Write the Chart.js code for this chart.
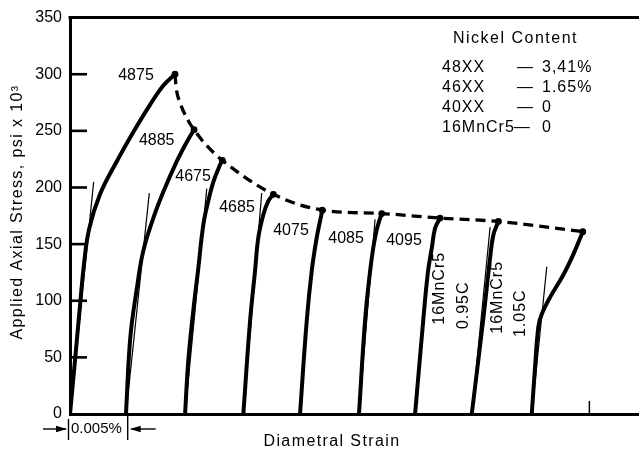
<!DOCTYPE html>
<html>
<head>
<meta charset="utf-8">
<script src="https://cdn.jsdelivr.net/npm/chart.js@4.4.1/dist/chart.umd.min.js"></script>
<style>
  html, body { margin: 0; padding: 0; background: #fff; }
  #wrap { width: 639px; height: 449px; position: relative; }
</style>
</head>
<body>
<div id="wrap"><canvas id="grafico"></canvas></div>
<script>
// Datos: deformacion diametral en unidades de 0.001 %, esfuerzo en psi x 10^3
const aceros = ["4875", "4885", "4675", "4685", "4075", "4085", "4095", "16MnCr5 0.95C", "16MnCr5 1.05C"];

const def4875 = [0, 0.43, 0.87, 1.21, 1.65, 2.60, 4.05, 5.49, 6.93, 8.09, 9.10];
const esf4875 = [0, 47, 96, 132, 163, 194, 223, 249, 273, 290, 300];

const def4885 = [4.85, 5.23, 5.81, 6.35, 7.22, 8.08, 9.25, 10.11, 10.75];
const esf4885 = [0, 68, 112, 144, 173, 196, 223, 240, 251];

const def4675 = [9.97, 10.25, 10.68, 11.12, 11.55, 11.98, 12.42, 13.00, 13.20];
const esf4675 = [0, 47, 91, 129, 167, 188, 205, 220, 224];

const def4685 = [15.02, 15.60, 16.03, 16.32, 16.75, 17.18, 17.62];
const esf4685 = [0, 82, 126, 156, 176, 188, 194];

const def4075 = [19.93, 20.51, 20.94, 21.38, 21.66, 21.86];
const esf4075 = [0, 82, 126, 156, 170, 180];

const def4085 = [25.04, 25.56, 26.00, 26.28, 26.58, 26.78, 27.01];
const esf4085 = [0, 82, 126, 147, 163, 170, 177];

const def4095 = [29.90, 30.60, 31.02, 31.37, 31.63, 32.06];
const esf4095 = [0, 82, 126, 148, 164, 173];

const defMn095 = [34.81, 35.82, 36.40, 36.68, 37.11];
const esfMn095 = [0, 85, 138, 158, 170];

const defMn105 = [40.01, 40.29, 40.58, 40.87, 41.59, 42.75, 43.61, 44.43];
const esfMn105 = [0, 41, 77, 88, 103, 123, 141, 161];

// Rectas elasticas (lineas finas)
const defRectas = [[0, 2.05], [4.85, 6.87], [9.97, 11.85], [15.02, 16.61], [25.04, 26.43], [34.81, 36.40], [40.01, 41.31]];
const esfRectas = [[0, 205], [0, 195], [0, 199], [0, 195], [0, 172], [0, 165], [0, 130]];

// Envolvente de maximos (linea discontinua)
const defEnvolvente = [9.10, 9.20, 9.53, 10.25, 10.75, 11.75, 13.20, 17.62, 21.86, 27.01, 32.06, 37.11, 44.43];
const esfEnvolvente = [300, 288, 275, 259, 251, 238, 224, 194, 180, 177, 173, 170, 161];
const picos = [0, 4, 6, 7, 8, 9, 10, 11, 12]; // indices de los maximos marcados

const ticksEsfuerzo = [0, 50, 100, 150, 200, 250, 300, 350];
const escalaDef = 5; // 0.005 %

const niquelNombres = ["48XX", "46XX", "40XX", "16MnCr5"];
const niquelValores = ["3,41%", "1.65%", "0", "0"];

const FUENTE = "'Liberation Sans', Arial, sans-serif";
const puntos = (xs, ys) => xs.map((x, i) => ({ x: x, y: ys[i] }));

const curvas = [
  [def4875, esf4875], [def4885, esf4885], [def4675, esf4675], [def4685, esf4685],
  [def4075, esf4075], [def4085, esf4085], [def4095, esf4095], [defMn095, esfMn095], [defMn105, esfMn105]
];

const datasets = [];
curvas.forEach((c, i) => {
  datasets.push({
    label: aceros[i],
    data: puntos(c[0], c[1]),
    showLine: true,
    borderColor: '#000',
    borderWidth: 4,
    pointRadius: 0,
    tension: 0.4,
    order: 1
  });
});
defRectas.forEach((d, i) => {
  datasets.push({
    label: 'recta ' + i,
    data: puntos(d, esfRectas[i]),
    showLine: true,
    borderColor: '#000',
    borderWidth: 1.2,
    pointRadius: 0,
    order: 2
  });
});
datasets.push({
  label: 'envolvente',
  data: puntos(defEnvolvente, esfEnvolvente),
  showLine: true,
  borderColor: '#000',
  borderWidth: 3.3,
  borderDash: [10, 6],
  pointRadius: ctx => picos.includes(ctx.dataIndex) ? 3.4 : 0,
  pointBackgroundColor: '#000',
  pointBorderWidth: 0,
  cubicInterpolationMode: 'monotone',
  order: 3
});

// Posiciones de las etiquetas (en unidades de datos)
const etiquetas = [
  { t: '4875', x: 5.72, y: 299 },
  { t: '4885', x: 7.51, y: 241 },
  { t: '4675', x: 10.66, y: 210 },
  { t: '4685', x: 14.47, y: 182 },
  { t: '4075', x: 19.15, y: 162 },
  { t: '4085', x: 23.92, y: 155 },
  { t: '4095', x: 28.94, y: 153 },
  { t: '16MnCr5', x: 32.06, y: 111, rot: true },
  { t: '0.95C', x: 34.06, y: 96, rot: true },
  { t: '16MnCr5', x: 37.09, y: 103, rot: true },
  { t: '1.05C', x: 39.0, y: 89, rot: true }
];

function linea(ctx, x1, y1, x2, y2) {
  ctx.beginPath(); ctx.moveTo(x1, y1); ctx.lineTo(x2, y2); ctx.stroke();
}
function flecha(ctx, xPunta, yy, dir) {
  ctx.beginPath();
  ctx.moveTo(xPunta, yy);
  ctx.lineTo(xPunta - dir * 11, yy - 3.2);
  ctx.lineTo(xPunta - dir * 11, yy + 3.2);
  ctx.closePath(); ctx.fill();
}

const anotaciones = {
  id: 'anotaciones',
  afterDraw(chart) {
    const { ctx, chartArea: area, scales: { x, y } } = chart;
    ctx.save();
    ctx.strokeStyle = '#000';
    ctx.fillStyle = '#000';

    // Borde superior
    ctx.lineWidth = 3;
    const yTop = y.getPixelForValue(350);
    linea(ctx, area.left - 1.5, yTop, area.right, yTop);

    // Marcas interiores del eje Y
    ctx.lineWidth = 2.6;
    ticksEsfuerzo.forEach(v => {
      if (v === 0 || v === 350) return;
      const py = y.getPixelForValue(v);
      linea(ctx, area.left, py, area.left + 17, py);
    });

    // Marca corta en el eje X
    ctx.lineWidth = 1.5;
    const p45 = x.getPixelForValue(45);
    linea(ctx, p45, area.bottom, p45, area.bottom - 13);

    // Cota 0.005 %
    const x0 = x.getPixelForValue(0);
    const x5 = x.getPixelForValue(escalaDef);
    const ya = area.bottom + 15;
    ctx.lineWidth = 1.4;
    linea(ctx, x0 - 1.5, area.bottom + 5, x0 - 1.5, area.bottom + 26);
    linea(ctx, x5, area.bottom + 1, x5, area.bottom + 26);
    linea(ctx, x0 - 27, ya, x0 - 4, ya);
    flecha(ctx, x0 - 3, ya, 1);
    linea(ctx, x5 + 28, ya, x5 + 4, ya);
    flecha(ctx, x5 + 2, ya, -1);
    ctx.font = '15px ' + FUENTE;
    ctx.textAlign = 'left';
    ctx.textBaseline = 'middle';
    ctx.fillText('0.005%', x0 + 1, ya);

    // Etiquetas de las curvas
    ctx.font = '16px ' + FUENTE;
    ctx.textAlign = 'center';
    etiquetas.forEach(e => {
      const px = x.getPixelForValue(e.x);
      const py = y.getPixelForValue(e.y);
      if (e.rot) {
        ctx.save();
        ctx.translate(px, py);
        ctx.rotate(-Math.PI / 2);
        ctx.letterSpacing = '1px';
        ctx.fillText(e.t, 0, 0);
        ctx.restore();
      } else {
        ctx.fillText(e.t, px, py);
      }
    });

    // Titulos de ejes
    ctx.letterSpacing = '1.4px';
    ctx.font = '16px ' + FUENTE;
    ctx.fillText('Diametral Strain', 332, 442);
    ctx.save();
    ctx.translate(18, 212);
    ctx.rotate(-Math.PI / 2);
    ctx.fillText('Applied Axial Stress, psi x 10\u00B3', 0, 0);
    ctx.restore();

    // Cuadro de contenido de niquel
    ctx.letterSpacing = '1.5px';
    ctx.textAlign = 'left';
    ctx.fillText('Nickel Content', 453, 39);
    ctx.letterSpacing = '1px';
    niquelNombres.forEach((n, i) => {
      const py = 68 + i * 19.8;
      ctx.fillText(n, 442, py);
      const xGuion = i === 3 ? 442 + ctx.measureText(n).width - 1 : 517;
      ctx.fillText('\u2014', xGuion, py);
      ctx.fillText(niquelValores[i], 542, py);
    });
    ctx.restore();
  }
};

new Chart(document.getElementById('grafico'), {
  type: 'scatter',
  data: { datasets: datasets },
  options: {
    responsive: true,
    maintainAspectRatio: false,
    animation: false,
    events: [],
    layout: { autoPadding: false, padding: { top: 15, right: 0, bottom: 0, left: 0 } },
    plugins: { legend: { display: false }, tooltip: { enabled: false } },
    scales: {
      x: {
        type: 'linear',
        min: 0,
        max: 49.3,
        grid: { display: false, drawTicks: false },
        border: { display: true, color: '#000', width: 3 },
        ticks: { display: false },
        afterFit: s => { s.height = 35; }
      },
      y: {
        min: 0,
        max: 350,
        grid: { display: false, drawTicks: false },
        border: { display: true, color: '#000', width: 3 },
        afterBuildTicks: s => { s.ticks = ticksEsfuerzo.map(v => ({ value: v })); },
        ticks: { color: '#000', padding: 8, font: { size: 16, family: FUENTE } },
        afterFit: s => { s.width = 70; }
      }
    }
  },
  plugins: [anotaciones]
});
</script>
</body>
</html>
